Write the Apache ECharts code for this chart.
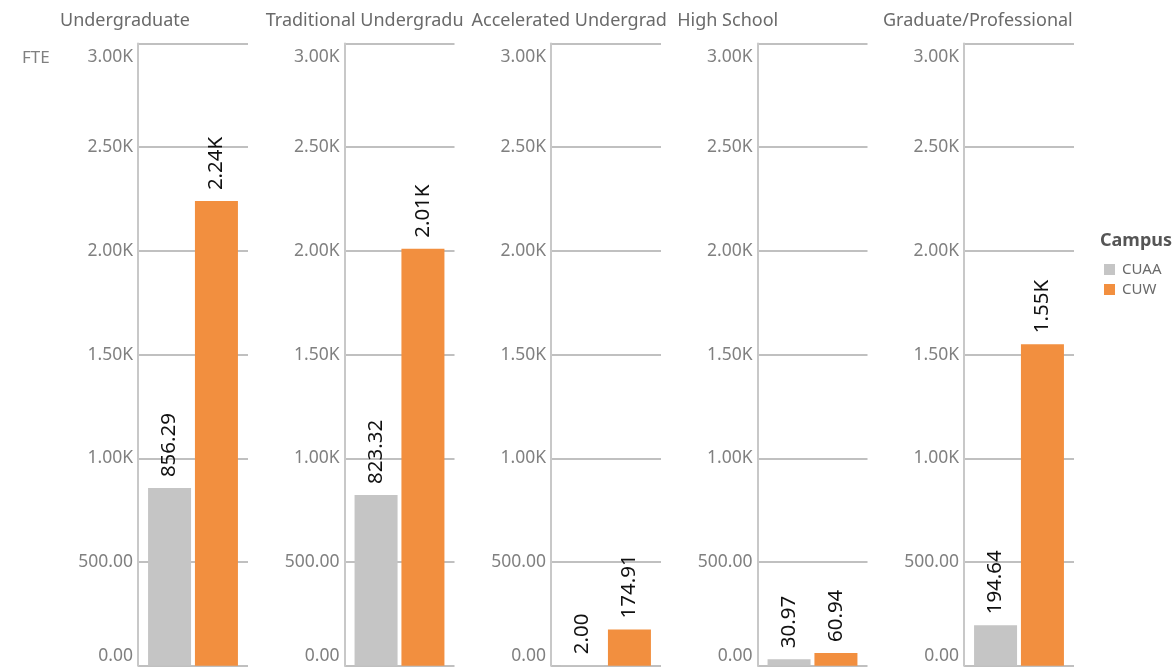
<!DOCTYPE html>
<html>
<head>
<meta charset="utf-8">
<script src="https://cdn.jsdelivr.net/npm/echarts@6/dist/echarts.min.js"></script>
<style>
html,body{margin:0;padding:0;background:#fff;}
#chart{width:1174px;height:667px;}
</style>
</head>
<body>
<div id="chart"></div>
<script>
var panels = ['Undergraduate', 'Traditional Undergraduate', 'Accelerated Undergraduate', 'High School', 'Graduate/Professional'];
var seriesNames = ['CUAA', 'CUW'];
var cuaaValues = [856.29, 823.32, 2.00, 30.97, 194.64];
var cuwValues = [2240, 2010, 174.91, 60.94, 1550];
var colors = ['#C5C5C5', '#F28F3F'];
var yTicks = [0, 500, 1000, 1500, 2000, 2500, 3000];

var FONT = '"Noto Sans", "Open Sans", sans-serif';
function fmt(v) {
  if (Math.abs(v) >= 1000) return (v / 1000).toFixed(2) + 'K';
  return v.toFixed(2);
}
var yMin = yTicks[0], yMax = yTicks[yTicks.length - 1];

var grids = [], xAxes = [], yAxes = [], series = [], titles = [];
var step = 206.5;
panels.forEach(function (p, i) {
  grids.push({ left: 138 + i * step, width: 110, top: 43.5, bottom: 1.3, outerBoundsMode: 'none', containLabel: false });
  xAxes.push({
    type: 'category', gridIndex: i, data: [p],
    axisLine: { show: false }, axisTick: { show: false }, axisLabel: { show: false }
  });
  yAxes.push({
    type: 'value', gridIndex: i, min: yMin, max: yMax, interval: 500,
    axisLine: { show: true, lineStyle: { color: '#C8C8C8', width: 2 } },
    axisTick: { show: false },
    axisLabel: {
      fontSize: 17.5, color: '#808080', fontFamily: FONT, margin: 5,
      formatter: function (v) {
        if (v === yMax) return '{t|' + fmt(v) + '}';
        if (v === yMin) return '{b|' + fmt(v) + '}';
        return fmt(v);
      },
      rich: {
        t: { fontSize: 17.5, color: '#808080', fontFamily: FONT, padding: [28, 0, 0, 0] },
        b: { fontSize: 17.5, color: '#808080', fontFamily: FONT, padding: [0, 0, 20, 0] }
      }
    },
    splitLine: { lineStyle: { color: '#ABABAB', width: 1.5 } }
  });
  titles.push({
    text: p, left: 60 + i * 205.75, top: 12, padding: 0,
    textStyle: { fontSize: 18, fontWeight: 'normal', color: '#6A6A6A', fontFamily: FONT,
      width: 203, overflow: 'truncate', ellipsis: '' }
  });
  [cuaaValues, cuwValues].forEach(function (vals, s) {
    series.push({
      type: 'bar', name: seriesNames[s], xAxisIndex: i, yAxisIndex: i,
      data: [vals[i]], barWidth: 43, barGap: '9%',
      itemStyle: { color: colors[s] },
      label: {
        show: true, position: 'top', rotate: 90, align: 'left', verticalAlign: 'middle',
        distance: 11, fontSize: 20.5, color: '#111111', fontFamily: FONT,
        formatter: function (d) { return fmt(d.value); }
      }
    });
  });
});

var chart = echarts.init(document.getElementById('chart'));
chart.setOption({
  animation: false,
  title: titles,
  grid: grids,
  xAxis: xAxes,
  yAxis: yAxes,
  series: series,
  legend: {
    orient: 'vertical', left: 1104, top: 262, itemWidth: 11, itemHeight: 11, itemGap: 5,
    icon: 'rect', data: seriesNames, padding: 0,
    textStyle: { fontSize: 15, color: '#6A6A6A', fontFamily: FONT, padding: [0, 0, 0, 2] }
  },
  graphic: [
    { type: 'text', left: 22, top: 50, style: { text: 'FTE', fontSize: 17, fill: '#808080', fontFamily: FONT } },
    { type: 'text', left: 1100, top: 232, style: { text: 'Campus', fontSize: 18, fontWeight: 'bold', fill: '#555555', fontFamily: FONT } }
  ]
});
</script>
</body>
</html>
